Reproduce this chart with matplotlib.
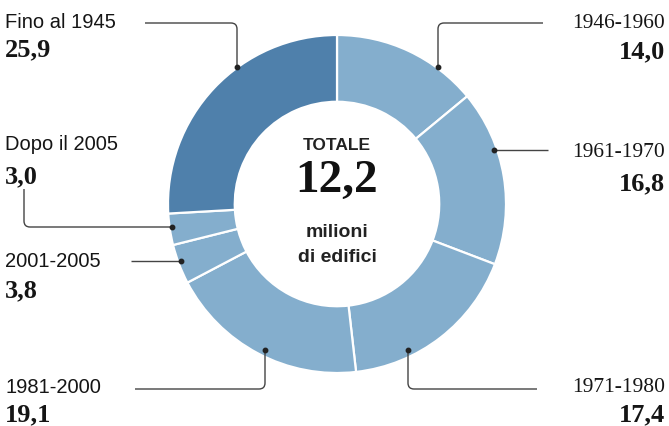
import matplotlib

matplotlib.use("Agg")
import matplotlib.pyplot as plt
from matplotlib.path import Path
from matplotlib.patches import PathPatch

# data: share of buildings by construction period (%)
periods = ["1946-1960", "1961-1970", "1971-1980", "1981-2000",
           "2001-2005", "Dopo il 2005", "Fino al 1945"]
shares = [14.0, 16.8, 17.4, 19.1, 3.8, 3.0, 25.9]
value_labels = ["14,0", "16,8", "17,4", "19,1", "3,8", "3,0", "25,9"]
total_label = "12,2"

LIGHT = "#84aecd"
DARK = "#4f80ab"
colors = [LIGHT] * 6 + [DARK]

SANS = ["Liberation Sans", "DejaVu Sans"]
SERIF = ["Liberation Serif", "DejaVu Serif"]
INK = "#151515"

W, H = 669, 427
fig = plt.figure(figsize=(W / 100, H / 100), dpi=100)
ax = fig.add_axes([0, 0, 1, 1])

cx, cy, r_out = 337, 205, 169
ax.pie(shares, colors=colors, center=(cx, cy), radius=r_out,
       startangle=-90, counterclock=True,
       wedgeprops=dict(width=r_out * 0.395, edgecolor="white", linewidth=1.6))
ax.set_xlim(0, W)
ax.set_ylim(H, 0)
ax.set_aspect("equal")
ax.axis("off")


def leader(points, rad=6):
    # polyline with rounded corners, dot at first point
    verts = [points[0]]
    codes = [Path.MOVETO]
    for i in range(1, len(points) - 1):
        (x0, y0), (x1, y1), (x2, y2) = points[i - 1], points[i], points[i + 1]
        d1 = ((x1 - x0) ** 2 + (y1 - y0) ** 2) ** 0.5
        d2 = ((x2 - x1) ** 2 + (y2 - y1) ** 2) ** 0.5
        a = (x1 - (x1 - x0) * rad / d1, y1 - (y1 - y0) * rad / d1)
        b = (x1 + (x2 - x1) * rad / d2, y1 + (y2 - y1) * rad / d2)
        verts += [a, (x1, y1), b]
        codes += [Path.LINETO, Path.CURVE3, Path.CURVE3]
    verts.append(points[-1])
    codes.append(Path.LINETO)
    ax.add_patch(PathPatch(Path(verts, codes), fill=False,
                           edgecolor="#444444", lw=1.0))
    ax.plot(*points[0], "o", color="#222222", ms=3.2)


# leader lines (layout positions in pixels)
leaders = [
    [(438, 68), (438, 24), (543, 24)],
    [(494, 151), (548, 151)],
    [(408, 351), (408, 390), (537, 390)],
    [(265, 351), (265, 390), (135, 390)],
    [(181, 262), (131, 262)],
    [(172, 228), (24, 228), (24, 190)],
    [(237, 68), (237, 24), (145, 24)],
]
for pts in leaders:
    leader(pts)

# label anchors: (x, label y, value y, ha)
anchors = [
    (665, 24, 52, "right"),
    (665, 153, 184, "right"),
    (665, 388, 415, "right"),
    (5, 388, 415, "left"),
    (5, 262, 291, "left"),
    (5, 145, 177, "left"),
    (5, 23, 50, "left"),
]
for name, val, (x, yl, yv, ha) in zip(periods, value_labels, anchors):
    if ha == "right":
        ax.text(x, yl, name, ha=ha, va="center", family=SERIF,
                fontsize=15.5, color=INK)
    else:
        ax.text(x, yl, name, ha=ha, va="center", family=SANS,
                fontsize=14.5, color=INK)
    ax.text(x, yv, val, ha=ha, va="center", family=SERIF,
            fontweight="bold", fontsize=19, color=INK)

# centre text
ax.text(cx, 146, "TOTALE", ha="center", va="center", family=SANS,
        fontweight="bold", fontsize=12.5, color="#222222")
ax.text(cx, 181, total_label, ha="center", va="center", family=SERIF,
        fontweight="bold", fontsize=34, color="#111111")
ax.text(cx, 233, "milioni", ha="center", va="center", family=SANS,
        fontweight="bold", fontsize=14, color="#222222")
ax.text(cx, 258, "di edifici", ha="center", va="center", family=SANS,
        fontweight="bold", fontsize=14, color="#222222")

fig.savefig("out.png", dpi=100)
